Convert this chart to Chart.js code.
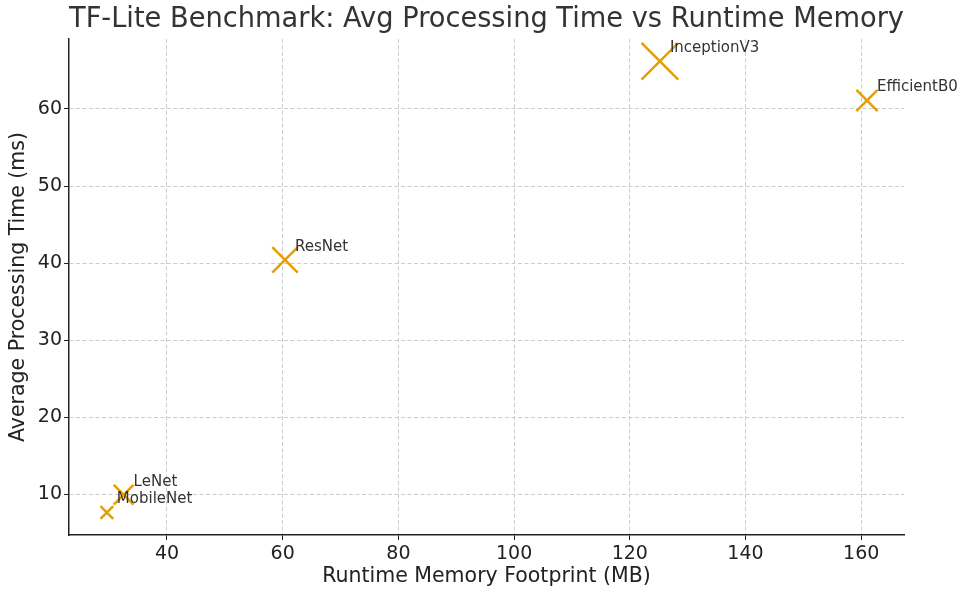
<!DOCTYPE html>
<html>
<head>
<meta charset="utf-8">
<script src="https://cdn.jsdelivr.net/npm/chart.js@4.4.1/dist/chart.umd.min.js"></script>
<style>
    html, body { margin: 0; padding: 0; background: #ffffff; }
    #wrap { width: 961px; height: 589px; }
</style>
</head>
<body>
<div id="wrap"><canvas id="benchChart" width="961" height="589"></canvas></div>
<script>
// 数据
const models = ['MobileNet', 'LeNet', 'ResNet', 'InceptionV3', 'EfficientB0'];
const memoryMB = [29.6, 32.5, 60.4, 125.2, 161.0];
const avgTimeMs = [7.6, 9.9, 40.4, 66.2, 61.1];
const xTicks = [40, 60, 80, 100, 120, 140, 160];
const yTicks = [10, 20, 30, 40, 50, 60];

// 标记大小
const markerRadius = [9, 14, 18, 26, 15];

const ORANGE = '#E69F00';
const FONT = 'DejaVu Sans';

// 数据点标注
const pointLabels = {
    id: 'pointLabels',
    afterDatasetsDraw(chart) {
        const ctx = chart.ctx;
        const meta = chart.getDatasetMeta(0);
        ctx.save();
        ctx.font = '15px "' + FONT + '"';
        ctx.fillStyle = '#333333';
        ctx.textAlign = 'left';
        ctx.textBaseline = 'middle';
        meta.data.forEach((pt, i) => {
            ctx.fillText(models[i], pt.x + 10, pt.y - 13);
        });
        ctx.restore();
    }
};

function createBenchChart() {
    const ctx = document.getElementById('benchChart').getContext('2d');

    new Chart(ctx, {
        type: 'scatter',
        data: {
            datasets: [{
                data: memoryMB.map((m, i) => ({ x: m, y: avgTimeMs[i] })),
                pointStyle: 'crossRot',
                pointRadius: markerRadius,
                pointBorderColor: ORANGE,
                pointBackgroundColor: ORANGE,
                pointBorderWidth: 2.5,
                clip: false
            }]
        },
        options: {
            responsive: false,
            animation: false,
            layout: { padding: { top: 0, right: 57, bottom: 0, left: 0 } },
            plugins: {
                legend: { display: false },
                tooltip: { enabled: false },
                title: {
                    display: true,
                    fullSize: false,
                    text: 'TF-Lite Benchmark: Avg Processing Time vs Runtime Memory',
                    color: '#333333',
                    font: { family: FONT, size: 27.5, weight: 'normal', lineHeight: 1.2 },
                    padding: { top: 3, bottom: 3 }
                }
            },
            scales: {
                x: {
                    type: 'linear',
                    min: 23.06,
                    max: 167.4,
                    afterBuildTicks: axis => { axis.ticks = xTicks.map(v => ({ value: v })); },
                    afterFit: axis => { axis.height = 54; },
                    grid: {
                        color: '#cccccc',
                        lineWidth: 1,
                        tickLength: 5,
                        tickColor: '#222222',
                        tickWidth: 1
                    },
                    border: { display: true, color: '#222222', width: 1.5, dash: [4, 2.5] },
                    ticks: {
                        color: '#222222',
                        padding: 3,
                        font: { family: FONT, size: 19 }
                    },
                    title: {
                        display: true,
                        text: 'Runtime Memory Footprint (MB)',
                        color: '#222222',
                        font: { family: FONT, size: 20.5, lineHeight: 1.2 },
                        padding: { top: 0, bottom: 0 }
                    }
                },
                y: {
                    type: 'linear',
                    min: 4.68,
                    max: 69.09,
                    afterBuildTicks: axis => { axis.ticks = yTicks.map(v => ({ value: v })); },
                    afterFit: axis => { axis.width = 69; },
                    grid: {
                        color: '#cccccc',
                        lineWidth: 1,
                        tickLength: 5,
                        tickColor: '#222222',
                        tickWidth: 1
                    },
                    border: { display: true, color: '#222222', width: 1.5, dash: [4, 2.5] },
                    ticks: {
                        color: '#222222',
                        padding: 2,
                        font: { family: FONT, size: 19 }
                    },
                    title: {
                        display: true,
                        text: 'Average Processing Time (ms)',
                        color: '#222222',
                        font: { family: FONT, size: 20.5, lineHeight: 1.2 },
                        padding: { top: 6, bottom: 0 }
                    }
                }
            }
        },
        plugins: [pointLabels]
    });
}

document.addEventListener('DOMContentLoaded', createBenchChart);
</script>
</body>
</html>
